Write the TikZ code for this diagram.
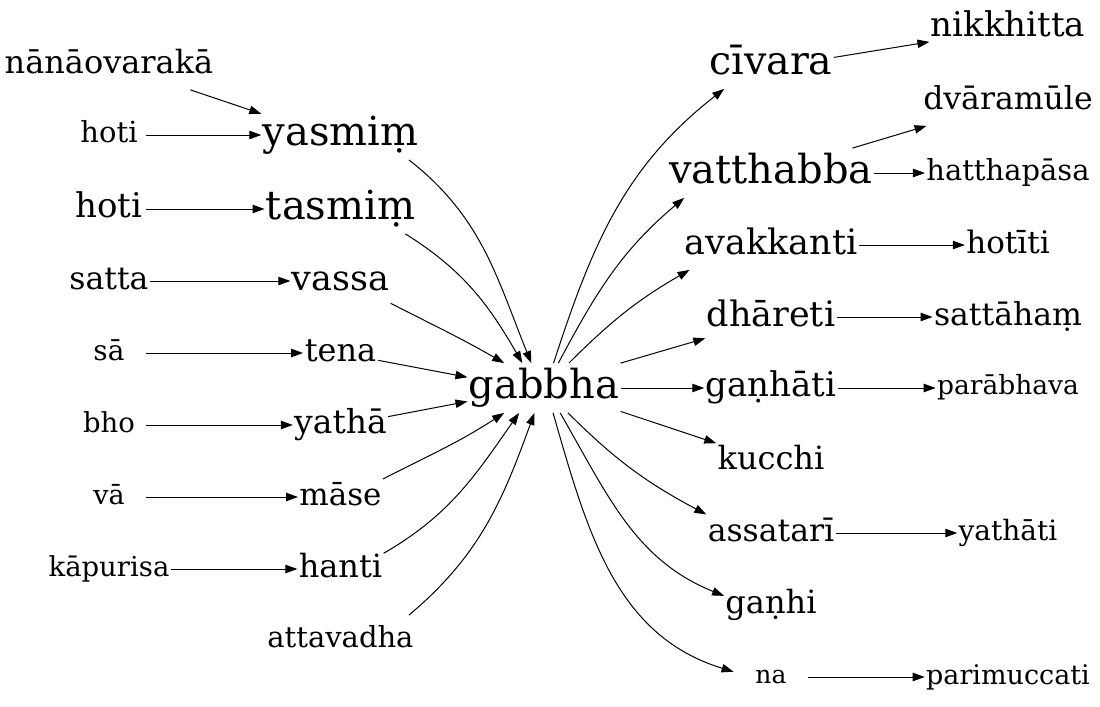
\documentclass[tikz,border=0pt]{standalone}
\usepackage{fontspec}
\setmainfont{DejaVu Serif}
\usetikzlibrary{arrows.meta}
\tikzset{
  word/.style={font=\fontsize{#1}{#1}\selectfont, text height=#1*0.76pt, text depth=#1*0.24pt,
    minimum width=37pt, minimum height=24.5pt, inner xsep=0.5pt, inner ysep=0pt},
  wordarrow/.style={-{Triangle[length=6pt,width=4.2pt]}, line width=0.5pt},
}

\begin{document}
\begin{tikzpicture}[x=0.5pt,y=0.5pt]
  \useasboundingbox (0,0) rectangle (1100,-707);
  % --- outer left words ---
  \node[word=16]    (nana)     at (109,-65)  {nānāovarakā};
  \node[word=14.5]  (hotiA)    at (109,-135) {hoti};
  \node[word=17]    (hotiB)    at (109,-209) {hoti};
  \node[word=15.75] (satta)    at (109,-281) {satta};
  \node[word=14]    (sa)       at (109,-353) {sā};
  \node[word=13.75] (bho)      at (109,-425) {bho};
  \node[word=13.5]  (va)       at (109,-497) {vā};
  \node[word=13.75] (kapurisa) at (109,-569) {kāpurisa};

  % --- inner left words ---
  \node[word=20]    (yasmim)    at (340.5,-135) {yasmiṃ};
  \node[word=20]    (tasmim)    at (340.5,-209) {tasmiṃ};
  \node[word=17.5]  (vassa)     at (340.5,-281) {vassa};
  \node[word=16]    (tena)      at (340.5,-353) {tena};
  \node[word=16.5]  (yatha)     at (340.5,-425) {yathā};
  \node[word=15.5]  (mase)      at (340.5,-497) {māse};
  \node[word=16]    (hanti)     at (340.5,-569) {hanti};
  \node[word=14.5]  (attavadha) at (340.5,-640) {attavadha};

  % --- centre ---
  \node[word=20] (gabbha) at (544,-388) {gabbha};

  % --- inner right words ---
  \node[word=19.75] (civara)    at (771,-64)  {cīvara};
  \node[word=20]    (vatthabba) at (771,-173) {vatthabba};
  \node[word=17.5]  (avakkanti) at (771,-245) {avakkanti};
  \node[word=17.5]  (dhareti)   at (771,-317) {dhāreti};
  \node[word=17]    (ganhati)   at (771,-388) {gaṇhāti};
  \node[word=16]    (kucchi)    at (771,-461) {kucchi};
  \node[word=15.75] (assatari)  at (771,-533) {assatarī};
  \node[word=16]    (ganhi)     at (771,-605) {gaṇhi};
  \node[word=12.5]  (na)        at (771,-677) {na};

  % --- outer right words ---
  \node[word=17]    (nikkhitta)   at (1008,-28)  {nikkhitta};
  \node[word=15.75] (dvaramule)   at (1008,-101) {dvāramūle};
  \node[word=14.5]  (hatthapasa)  at (1008,-173) {hatthapāsa};
  \node[word=15.5]  (hotiti)      at (1008,-245) {hotīti};
  \node[word=15.75] (sattaham)    at (1008,-317) {sattāhaṃ};
  \node[word=13.25] (parabhava)   at (1008,-388) {parābhava};
  \node[word=14]    (yathati)     at (1008,-533) {yathāti};
  \node[word=13.5]  (parimuccati) at (1008,-677) {parimuccati};

  % --- left edges ---
  \draw[wordarrow] (nana.-17) -- (yasmim.165);
  \draw[wordarrow] (hotiA) -- (yasmim);
  \draw[wordarrow] (hotiB) -- (tasmim);
  \draw[wordarrow] (satta) -- (vassa);
  \draw[wordarrow] (sa) -- (tena);
  \draw[wordarrow] (bho) -- (yatha);
  \draw[wordarrow] (va) -- (mase);
  \draw[wordarrow] (kapurisa) -- (hanti);

  % --- into gabbha ---
  \draw[wordarrow] (yasmim.-20) to[out=-38,in=112] (gabbha.117);
  \draw[wordarrow] (tasmim.-21) to[out=-32,in=120] (gabbha.131);
  \draw[wordarrow] (vassa.-24) to[out=-27,in=150] (gabbha.148);
  \draw[wordarrow] (tena.-11) -- (gabbha.172);
  \draw[wordarrow] (yatha.10) -- (gabbha.190);
  \draw[wordarrow] (mase.23) to[out=27,in=213] (gabbha.212);
  \draw[wordarrow] (hanti.20) to[out=30,in=235] (gabbha.225);
  \draw[wordarrow] (attavadha.20) to[out=40,in=250] (gabbha.249);

  % --- out of gabbha ---
  \draw[wordarrow] (gabbha.69) to[out=72,in=218] (civara.208);
  \draw[wordarrow] (gabbha.60) to[out=62,in=220] (vatthabba.196);
  \draw[wordarrow] (gabbha.45) to[out=45,in=210] (avakkanti.197);
  \draw[wordarrow] (gabbha.18) -- (dhareti.198);
  \draw[wordarrow] (gabbha) -- (ganhati);
  \draw[wordarrow] (gabbha.-17) -- (kucchi.162);
  \draw[wordarrow] (gabbha.-46) to[out=-45,in=152] (assatari.164);
  \draw[wordarrow] (gabbha.-57) to[out=-60,in=158] (ganhi.169);
  \draw[wordarrow] (gabbha.-70) to[out=-74,in=163] (na.172);

  % --- right edges ---
  \draw[wordarrow] (civara.6) -- (nikkhitta.190);
  \draw[wordarrow] (vatthabba.17) -- (dvaramule.197);
  \draw[wordarrow] (vatthabba) -- (hatthapasa);
  \draw[wordarrow] (avakkanti) -- (hotiti);
  \draw[wordarrow] (dhareti) -- (sattaham);
  \draw[wordarrow] (ganhati) -- (parabhava);
  \draw[wordarrow] (assatari) -- (yathati);
  \draw[wordarrow] (na) -- (parimuccati);
\end{tikzpicture}
\end{document}
